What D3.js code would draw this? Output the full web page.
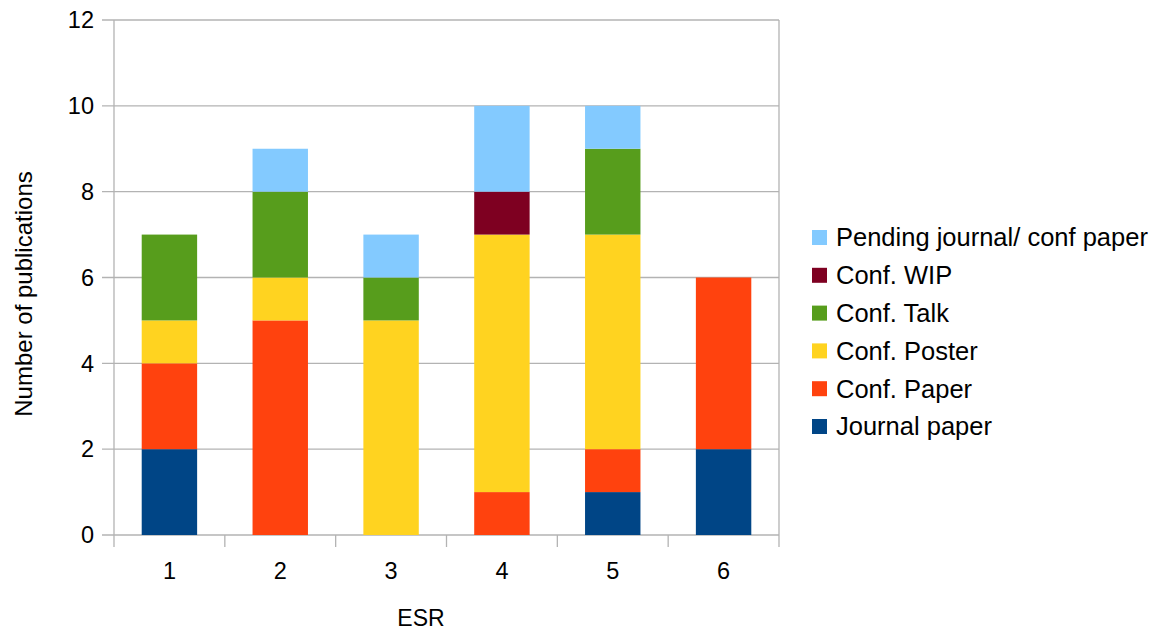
<!DOCTYPE html>
<html><head><meta charset="utf-8">
<script src="https://cdn.jsdelivr.net/npm/d3@7"></script>
<style>body{margin:0;background:#fff}text{font-family:"Liberation Sans",Arial,sans-serif;fill:#000}</style>
</head><body><svg id="c" width="1159" height="630"></svg>
<script>
const categories = ["1","2","3","4","5","6"];
const seriesNames = ["Journal paper","Conf. Paper","Conf. Poster","Conf. Talk","Conf. WIP","Pending journal/ conf paper"];
const journalPaper = [2,0,0,0,1,2];
const confPaper    = [2,5,0,1,1,4];
const confPoster   = [1,1,5,6,5,0];
const confTalk     = [2,2,1,0,2,0];
const confWIP      = [0,0,0,1,0,0];
const pending      = [0,1,1,2,1,0];
const colors = ["#004586","#ff420e","#ffd320","#579d1c","#7e0021","#83caff"];
const yTicks = [0,2,4,6,8,10,12];

const seriesVals = [journalPaper,confPaper,confPoster,confTalk,confWIP,pending];
const rows = categories.map((c,i)=>{const o={cat:c};seriesNames.forEach((s,j)=>o[s]=seriesVals[j][i]);return o;});
const stack = d3.stack().keys(seriesNames)(rows);

const svg = d3.select("#c");
const L=114,R=779,T=20,B=535;
const x = d3.scaleBand().domain(categories).range([L,R]).paddingInner(0.5).paddingOuter(0.25);
const xb = d3.scaleBand().domain(categories).range([L,R]);
const y = d3.scaleLinear().domain([0,12]).range([B,T]);

// gridlines
svg.append("g").selectAll("line").data(yTicks).join("line")
  .attr("x1",102).attr("x2",R).attr("y1",d=>y(d)).attr("y2",d=>y(d))
  .attr("stroke","#b3b3b3").attr("stroke-width",1.3);
// y labels
svg.append("g").selectAll("text").data(yTicks).join("text")
  .attr("x",94).attr("y",d=>y(d)).attr("dy","0.35em").attr("text-anchor","end")
  .attr("font-size",23.5).text(d=>d);

// bars
svg.append("g").selectAll("g").data(stack).join("g").attr("fill",(d,i)=>colors[i])
  .selectAll("rect").data(d=>d).join("rect")
  .attr("x",d=>x(d.data.cat)).attr("width",x.bandwidth())
  .attr("y",d=>y(d[1])).attr("height",d=>y(d[0])-y(d[1]));

// axes lines
svg.append("line").attr("x1",L).attr("x2",L).attr("y1",T).attr("y2",B+12).attr("stroke","#b3b3b3").attr("stroke-width",1.3);
svg.append("line").attr("x1",R).attr("x2",R).attr("y1",T).attr("y2",B+12).attr("stroke","#b3b3b3").attr("stroke-width",1.3);
svg.append("g").selectAll("line").data(categories.slice(1)).join("line")
  .attr("x1",d=>xb(d)).attr("x2",d=>xb(d)).attr("y1",B).attr("y2",B+12)
  .attr("stroke","#b3b3b3").attr("stroke-width",1.3);
svg.append("g").selectAll("text").data(categories).join("text")
  .attr("x",d=>xb(d)+xb.bandwidth()/2).attr("y",579).attr("text-anchor","middle")
  .attr("font-size",23.5).text(d=>d);

svg.append("text").attr("x",421).attr("y",626).attr("text-anchor","middle").attr("font-size",23).text("ESR");
svg.append("text").attr("transform","translate(32,294) rotate(-90)").attr("text-anchor","middle").attr("font-size",24).text("Number of publications");

// legend
const leg = svg.append("g").selectAll("g").data(seriesNames.slice().reverse()).join("g")
  .attr("transform",(d,i)=>`translate(812,${237.5+i*37.8})`);
leg.append("rect").attr("x",0).attr("y",-7.5).attr("width",15).attr("height",15)
  .attr("fill",d=>colors[seriesNames.indexOf(d)]);
leg.append("text").attr("x",24).attr("dy","0.35em").attr("font-size",25.5).text(d=>d);
</script></body></html>
